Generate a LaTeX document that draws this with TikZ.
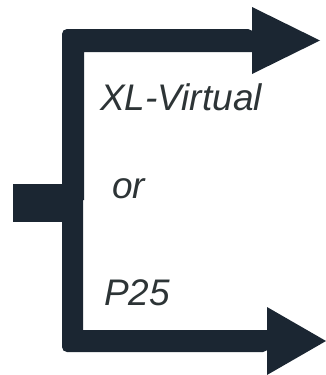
\documentclass[tikz,border=0pt]{standalone}
\usepackage{fontspec}
\setmainfont{Liberation Sans}
\definecolor{barcol}{RGB}{27,38,50}
\definecolor{txtcol}{RGB}{45,52,54}
\tikzset{
  bar/.style={fill=barcol, draw=none},
  lbl/.style={anchor=base west, inner sep=0pt, text=txtcol, font=\fontsize{37}{41}\selectfont\itshape}
}
\begin{document}
\begin{tikzpicture}[x=1pt,y=-1pt]
\useasboundingbox (0,0) rectangle (326,375);
% top arm
\fill[bar] (84,200) -- (62,200) [rounded corners=5pt] -- (62,29) -- (253,29) [sharp corners] -- (253,52) -- (84,52) -- cycle;
\fill[bar] (252,7) -- (320,40.5) -- (252,74) -- cycle;
% bottom arm
\fill[bar] (62,200) [rounded corners=5pt] -- (62,352) -- (268,352) [sharp corners] -- (268,330) -- (83,330) -- (83,200) -- cycle;
\fill[bar] (267,307) -- (326,341) -- (267,375) -- cycle;
% stub
\fill[bar] (13,184) rectangle (63,222);
% labels
\node[lbl] (t1) at (100,110) {XL-Virtual};
\node[lbl] (t2) at (112,198) {or};
\node[lbl] (t3) at (104,305) {P25};
\end{tikzpicture}
\end{document}
